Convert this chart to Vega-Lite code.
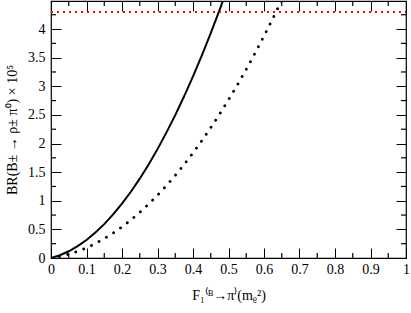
{
  "$schema": "https://vega.github.io/schema/vega-lite/v6.json",
  "width": 355,
  "height": 257,
  "autosize": {"type": "none"},
  "padding": {"left": 51, "top": 1, "right": 5, "bottom": 55},
  "background": "white",
  "config": {
    "view": {"stroke": "black", "strokeWidth": 1.2},
    "axis": {"grid": false, "domain": false}
  },
  "datasets": {
    "solid": [
      {"f": 0, "br": 0},
      {"f": 0.025, "br": 0.049},
      {"f": 0.05, "br": 0.118},
      {"f": 0.075, "br": 0.207},
      {"f": 0.1, "br": 0.315},
      {"f": 0.125, "br": 0.444},
      {"f": 0.15, "br": 0.592},
      {"f": 0.175, "br": 0.761},
      {"f": 0.2, "br": 0.949},
      {"f": 0.225, "br": 1.157},
      {"f": 0.25, "br": 1.386},
      {"f": 0.275, "br": 1.634},
      {"f": 0.3, "br": 1.902},
      {"f": 0.325, "br": 2.19},
      {"f": 0.35, "br": 2.497},
      {"f": 0.375, "br": 2.825},
      {"f": 0.4, "br": 3.173},
      {"f": 0.425, "br": 3.54},
      {"f": 0.45, "br": 3.928},
      {"f": 0.475, "br": 4.335},
      {"f": 0.5, "br": 4.763}
    ],
    "dotted": [
      {"f": 0, "br": 0},
      {"f": 0.025, "br": 0.027},
      {"f": 0.05, "br": 0.066},
      {"f": 0.075, "br": 0.116},
      {"f": 0.1, "br": 0.178},
      {"f": 0.125, "br": 0.252},
      {"f": 0.15, "br": 0.338},
      {"f": 0.175, "br": 0.435},
      {"f": 0.2, "br": 0.544},
      {"f": 0.225, "br": 0.664},
      {"f": 0.25, "br": 0.797},
      {"f": 0.275, "br": 0.941},
      {"f": 0.3, "br": 1.096},
      {"f": 0.325, "br": 1.264},
      {"f": 0.35, "br": 1.443},
      {"f": 0.375, "br": 1.633},
      {"f": 0.4, "br": 1.836},
      {"f": 0.425, "br": 2.051},
      {"f": 0.45, "br": 2.276},
      {"f": 0.475, "br": 2.514},
      {"f": 0.5, "br": 2.763},
      {"f": 0.525, "br": 3.024},
      {"f": 0.55, "br": 3.296},
      {"f": 0.575, "br": 3.581},
      {"f": 0.6, "br": 3.878},
      {"f": 0.625, "br": 4.185},
      {"f": 0.65, "br": 4.505}
    ],
    "limit": [
      {"f": 0, "br": 4.3},
      {"f": 1, "br": 4.3}
    ],
    "xmajor": [{"v": 0}, {"v": 0.1}, {"v": 0.2}, {"v": 0.3}, {"v": 0.4}, {"v": 0.5}, {"v": 0.6}, {"v": 0.7}, {"v": 0.8}, {"v": 0.9}, {"v": 1}],
    "xminor": [{"v": 0.05}, {"v": 0.15}, {"v": 0.25}, {"v": 0.35}, {"v": 0.45}, {"v": 0.55}, {"v": 0.65}, {"v": 0.75}, {"v": 0.85}, {"v": 0.95}],
    "ymajor": [{"v": 0}, {"v": 0.5}, {"v": 1}, {"v": 1.5}, {"v": 2}, {"v": 2.5}, {"v": 3}, {"v": 3.5}, {"v": 4}],
    "yminor": [{"v": 0.25}, {"v": 0.75}, {"v": 1.25}, {"v": 1.75}, {"v": 2.25}, {"v": 2.75}, {"v": 3.25}, {"v": 3.75}, {"v": 4.25}]
  },
  "layer": [
    {
      "data": {"name": "solid"},
      "mark": {"type": "line", "color": "black", "strokeWidth": 2, "clip": true},
      "encoding": {
        "x": {"field": "f", "type": "quantitative", "scale": {"domain": [0, 1], "nice": false, "zero": false},
          "axis": {"orient": "bottom",
            "values": [0, 0.1, 0.2, 0.3, 0.4, 0.5, 0.6, 0.7, 0.8, 0.9, 1],
            "offset": -10, "tickSize": 10, "tickColor": "black",
            "labelPadding": 4, "labelFont": "Liberation Serif", "labelFontSize": 14, "labelColor": "black", "labelFlush": false, "labelOverlap": false,
            "title": "F₁⁽ᴮ→π⁾(mᵨ²)", "titleFont": "Liberation Serif", "titleFontSize": 14, "titleFontWeight": "normal", "titleColor": "black", "titlePadding": 12, "format": "~g"}},
        "y": {"field": "br", "type": "quantitative", "scale": {"domain": [0, 4.49], "nice": false, "zero": false},
          "axis": {"orient": "left",
            "values": [0, 0.5, 1, 1.5, 2, 2.5, 3, 3.5, 4],
            "offset": -10, "tickSize": 10, "tickColor": "black",
            "labelPadding": 6, "labelFont": "Liberation Serif", "labelFontSize": 14, "labelColor": "black", "labelFlush": false, "labelOverlap": false,
            "title": "BR(B± → ρ± π⁰) × 10⁵", "titleFont": "Liberation Serif", "titleFontSize": 14, "titleFontWeight": "normal", "titleColor": "black", "titlePadding": 8, "format": "~g"}}
      }
    },
    {
      "data": {"name": "limit"},
      "mark": {"type": "line", "color": "#ff0000", "strokeWidth": 2, "strokeDash": [2, 4], "clip": true},
      "encoding": {
        "x": {"field": "f", "type": "quantitative",
          "axis": {"orient": "top", "values": [0, 0.1, 0.2, 0.3, 0.4, 0.5, 0.6, 0.7, 0.8, 0.9, 1], "offset": -10, "tickSize": 10, "tickColor": "black", "labels": false, "title": null}},
        "y": {"field": "br", "type": "quantitative",
          "axis": {"orient": "right", "values": [0, 0.5, 1, 1.5, 2, 2.5, 3, 3.5, 4], "offset": -10, "tickSize": 10, "tickColor": "black", "labels": false, "title": null}}
      }
    },
    {
      "data": {"name": "dotted"},
      "mark": {"type": "line", "color": "black", "strokeWidth": 2.8, "strokeDash": [0.1, 8.4], "strokeCap": "round", "clip": true},
      "encoding": {
        "x": {"field": "f", "type": "quantitative", "axis": null},
        "y": {"field": "br", "type": "quantitative", "axis": null}
      }
    },
    {
      "data": {"name": "xminor"},
      "mark": {"type": "tick", "orient": "vertical", "size": 10, "thickness": 1.2, "color": "black", "opacity": 1, "clip": true},
      "encoding": {"x": {"field": "v", "type": "quantitative", "axis": null}, "y": {"datum": 0, "type": "quantitative", "axis": null}}
    },
    {
      "data": {"name": "xminor"},
      "mark": {"type": "tick", "orient": "vertical", "size": 10, "thickness": 1.2, "color": "black", "opacity": 1, "clip": true},
      "encoding": {"x": {"field": "v", "type": "quantitative", "axis": null}, "y": {"datum": 4.49, "type": "quantitative", "axis": null}}
    },
    {
      "data": {"name": "yminor"},
      "mark": {"type": "tick", "orient": "horizontal", "size": 10, "thickness": 1.2, "color": "black", "opacity": 1, "clip": true},
      "encoding": {"y": {"field": "v", "type": "quantitative", "axis": null}, "x": {"datum": 0, "type": "quantitative", "axis": null}}
    },
    {
      "data": {"name": "yminor"},
      "mark": {"type": "tick", "orient": "horizontal", "size": 10, "thickness": 1.2, "color": "black", "opacity": 1, "clip": true},
      "encoding": {"y": {"field": "v", "type": "quantitative", "axis": null}, "x": {"datum": 1, "type": "quantitative", "axis": null}}
    }
  ],
  "resolve": {"axis": {"x": "independent", "y": "independent"}}
}
